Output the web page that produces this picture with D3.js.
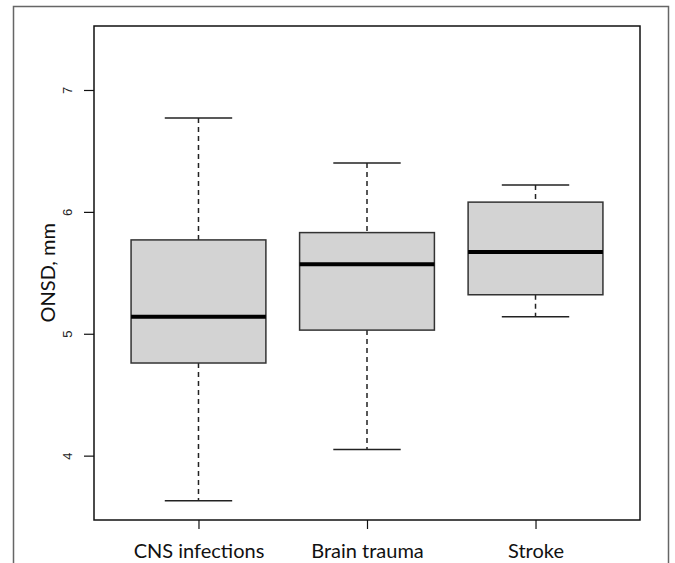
<!DOCTYPE html>
<html>
<head>
<meta charset="utf-8">
<script src="https://cdn.jsdelivr.net/npm/d3@7"></script>
<style>
  body { margin: 0; background: #fff; }
  svg { display: block; }
</style>
</head>
<body>
<div id="chart"></div>
<script>
// groups and box statistics (ONSD, mm)
const groups = ['CNS infections', 'Brain trauma', 'Stroke'];
const whiskerLow = [3.63, 4.05, 5.14];
const q1 = [4.76, 5.03, 5.32];
const median = [5.14, 5.57, 5.67];
const q3 = [5.77, 5.83, 6.08];
const whiskerHigh = [6.77, 6.40, 6.22];
const yTicks = [4, 5, 6, 7];

const width = 675;
const height = 563;
const margin = { top: 26, right: 35, bottom: 43, left: 94 };
const innerW = width - margin.left - margin.right;
const innerH = height - margin.top - margin.bottom;

const svg = d3.select('#chart')
  .append('svg')
  .attr('width', width)
  .attr('height', height);

// outer frame of the figure
svg.append('rect')
  .attr('x', 13.5)
  .attr('y', 6.5)
  .attr('width', 655)
  .attr('height', 600)
  .attr('fill', 'none')
  .attr('stroke', '#666')
  .attr('stroke-width', 1.5);

const g = svg.append('g')
  .attr('transform', `translate(${margin.left},${margin.top})`);

// R style: positions 1..n, xlim 0.5..n+0.5 extended by 4%
const x = d3.scaleLinear()
  .domain([0.38, 3.62])
  .range([0, innerW]);

const y = d3.scaleLinear()
  .domain([3.472, 7.525])
  .range([innerH, 0]);

const data = groups.map((name, i) => ({
  name,
  pos: i + 1,
  lo: whiskerLow[i],
  q1: q1[i],
  med: median[i],
  q3: q3[i],
  hi: whiskerHigh[i]
}));

const boxW = 0.4;  // half width in x units
const capW = 0.2;

const box = g.selectAll('.box')
  .data(data)
  .enter().append('g')
  .attr('class', 'box');

// whiskers (dashed)
box.append('line')
  .attr('x1', d => x(d.pos)).attr('x2', d => x(d.pos))
  .attr('y1', d => y(d.hi)).attr('y2', d => y(d.q3))
  .attr('stroke', '#222').attr('stroke-width', 1.5)
  .attr('stroke-dasharray', '5,4');
box.append('line')
  .attr('x1', d => x(d.pos)).attr('x2', d => x(d.pos))
  .attr('y1', d => y(d.q1)).attr('y2', d => y(d.lo))
  .attr('stroke', '#222').attr('stroke-width', 1.5)
  .attr('stroke-dasharray', '5,4');

// caps
box.append('line')
  .attr('x1', d => x(d.pos - capW)).attr('x2', d => x(d.pos + capW))
  .attr('y1', d => y(d.hi)).attr('y2', d => y(d.hi))
  .attr('stroke', '#222').attr('stroke-width', 1.5);
box.append('line')
  .attr('x1', d => x(d.pos - capW)).attr('x2', d => x(d.pos + capW))
  .attr('y1', d => y(d.lo)).attr('y2', d => y(d.lo))
  .attr('stroke', '#222').attr('stroke-width', 1.5);

// boxes
box.append('rect')
  .attr('x', d => x(d.pos - boxW))
  .attr('y', d => y(d.q3))
  .attr('width', d => x(d.pos + boxW) - x(d.pos - boxW))
  .attr('height', d => y(d.q1) - y(d.q3))
  .attr('fill', '#d3d3d3')
  .attr('stroke', '#333')
  .attr('stroke-width', 1.5);

// medians
box.append('line')
  .attr('x1', d => x(d.pos - boxW)).attr('x2', d => x(d.pos + boxW))
  .attr('y1', d => y(d.med)).attr('y2', d => y(d.med))
  .attr('stroke', '#000').attr('stroke-width', 4);

// plot frame
g.append('rect')
  .attr('width', innerW)
  .attr('height', innerH)
  .attr('fill', 'none')
  .attr('stroke', '#111')
  .attr('stroke-width', 1.5);

// y axis
const yAxis = g.append('g')
  .attr('class', 'y-axis')
  .call(d3.axisLeft(y).tickValues(yTicks).tickSize(10).tickPadding(0).tickFormat(d3.format('d')));
yAxis.select('.domain').remove();
yAxis.selectAll('line').attr('stroke', '#111').attr('stroke-width', 1.2);
yAxis.selectAll('text')
  .attr('x', null).attr('dy', null)
  .attr('transform', 'translate(-22,0) rotate(-90)')
  .style('text-anchor', 'middle')
  .attr('font-family', 'Liberation Sans, Arial, sans-serif')
  .attr('font-size', 13)
  .attr('fill', '#222');

// x axis
const xAxis = g.append('g')
  .attr('class', 'x-axis')
  .attr('transform', `translate(0,${innerH})`)
  .call(d3.axisBottom(x).tickValues(data.map(d => d.pos)).tickSize(9).tickPadding(15)
    .tickFormat((d, i) => groups[i]));
xAxis.select('.domain').remove();
xAxis.selectAll('line').attr('stroke', '#111').attr('stroke-width', 1.2);
xAxis.selectAll('text')
  .attr('font-family', 'Lato, Open Sans, sans-serif')
  .attr('font-size', 20)
  .attr('fill', '#111');

// y axis title
svg.append('text')
  .attr('transform', `translate(55,${margin.top + y(5.5)}) rotate(-90)`)
  .attr('text-anchor', 'middle')
  .attr('font-family', 'Lato, Open Sans, sans-serif')
  .attr('font-size', 20)
  .attr('fill', '#111')
  .text('ONSD, mm');
</script>
</body>
</html>
